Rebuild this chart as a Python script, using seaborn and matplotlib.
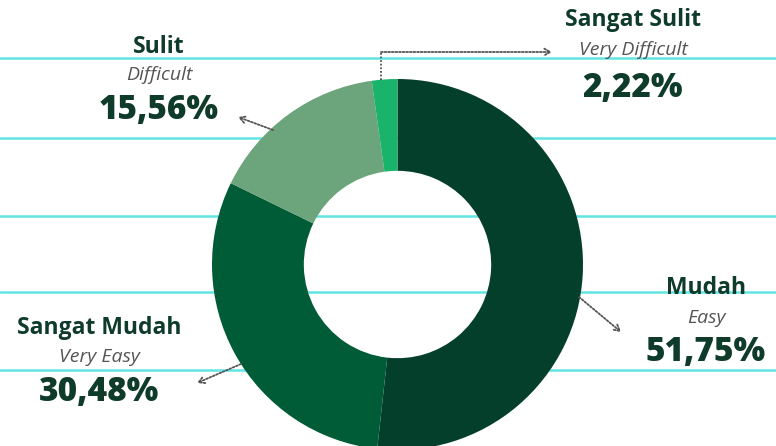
import matplotlib
matplotlib.use("Agg")
import matplotlib.pyplot as plt
import seaborn as sns

# ---- data ----
categories = ["Mudah", "Sangat Mudah", "Sulit", "Sangat Sulit"]
english = ["Easy", "Very Easy", "Difficult", "Very Difficult"]
values = [51.75, 30.48, 15.56, 2.22]
value_labels = ["51,75%", "30,48%", "15,56%", "2,22%"]
colors = ["#033F2B", "#005B37", "#6CA47B", "#1AB36C"]

sns.set_theme(style="white")
plt.rcParams["font.family"] = ["Open Sans", "DejaVu Sans"]

W, H = 776, 446
fig = plt.figure(figsize=(W / 100, H / 100), dpi=100)
ax = fig.add_axes([0, 0, 1, 1])

def Y(y):
    return H - y

# background guide lines
for yy in [58, 138, 216, 292, 370]:
    ax.axhline(Y(yy), color="#62E4E4", lw=1.8, zorder=0)

cx, cy, R = 397.5, 264.5, 185.5
ax.pie(values, colors=colors, startangle=90, counterclock=False,
       center=(cx, Y(cy)), radius=R,
       wedgeprops=dict(width=R * 0.495, linewidth=0),
       frame=True)
ax.set_xlim(0, W)
ax.set_ylim(0, H)
ax.set_aspect("equal")
ax.axis("off")

dark = "#0F3B2B"
grey = "#555555"
label_pos = {
    "Mudah": (706, 288, 318, 352),
    "Sangat Mudah": (99, 328, 357, 392),
    "Sulit": (159, 47, 75, 110),
    "Sangat Sulit": (633, 20, 50, 88),
}
for cat, eng, vl in zip(categories, english, value_labels):
    x, y1, y2, y3 = label_pos[cat]
    ax.text(x, Y(y1), cat, ha="center", va="center", fontsize=16.5,
            fontweight="bold", color=dark, zorder=5)
    ax.text(x, Y(y2), eng, ha="center", va="center", fontsize=14,
            style="italic", color=grey, zorder=5)
    ax.text(x, Y(y3), vl, ha="center", va="center", fontsize=24,
            fontweight="heavy", color=dark, zorder=5)

ap = dict(arrowstyle="->,head_length=0.35,head_width=0.2", color="#555555",
          lw=1.3, linestyle=(0, (1, 1)), shrinkA=0, shrinkB=0)
ax.annotate("", xy=(621, Y(332)), xytext=(579, Y(297)), arrowprops=ap, zorder=6)
ax.annotate("", xy=(197, Y(383)), xytext=(241, Y(364)), arrowprops=ap, zorder=6)
ax.annotate("", xy=(238, Y(117)), xytext=(273, Y(130)), arrowprops=ap, zorder=6)
# Sangat Sulit elbow connector
ax.plot([381, 381], [Y(80), Y(52)], color="#555555", lw=1.3,
        linestyle=(0, (1, 1)), zorder=6)
ax.annotate("", xy=(552, Y(52)), xytext=(381, Y(52)), arrowprops=ap, zorder=6)

fig.savefig("out.png", dpi=100, facecolor="white")
